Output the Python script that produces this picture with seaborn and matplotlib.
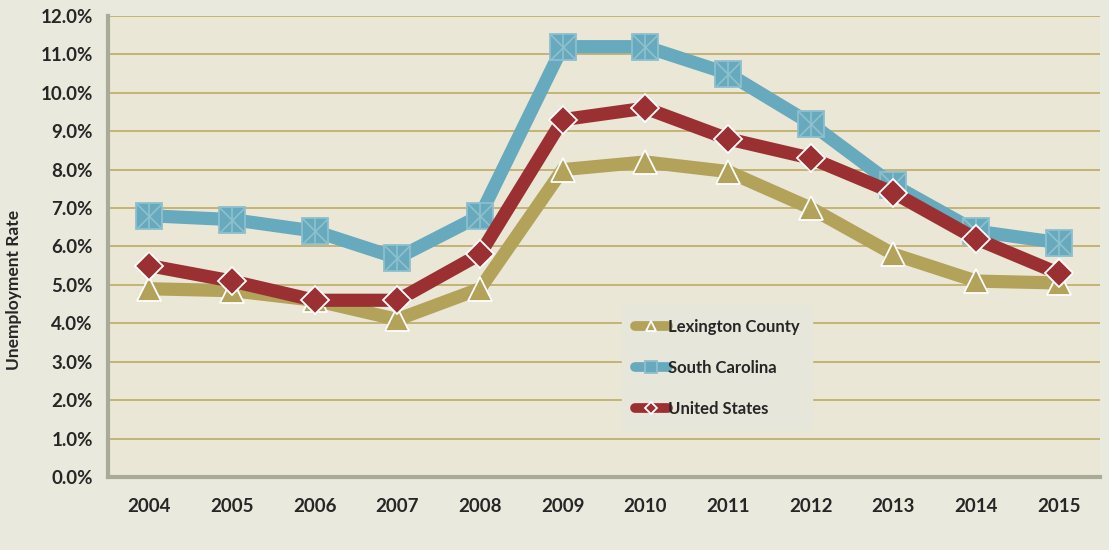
import numpy as np
import pandas as pd
import matplotlib
matplotlib.use("Agg")
import matplotlib.pyplot as plt
import seaborn as sns
from matplotlib.ticker import FixedLocator, FuncFormatter

# data
years = ["2004", "2005", "2006", "2007", "2008", "2009",
         "2010", "2011", "2012", "2013", "2014", "2015"]
lexington = [4.9, 4.85, 4.6, 4.1, 4.9, 8.0, 8.2, 7.95, 7.0, 5.8, 5.1, 5.05]
south_carolina = [6.8, 6.7, 6.4, 5.7, 6.8, 11.2, 11.2, 10.5, 9.2, 7.6, 6.4, 6.1]
united_states = [5.5, 5.1, 4.6, 4.6, 5.8, 9.3, 9.6, 8.8, 8.3, 7.4, 6.2, 5.3]

sns.set_style("white")
plt.rcParams['font.family'] = ['Lato', 'DejaVu Sans']

fig = plt.figure(figsize=(11.09, 5.5), dpi=100, facecolor='#E9E9DD')
ax = fig.add_axes([0.0974, 0.1327, 0.8945, 0.8383])
ax.set_facecolor('#EBE7D6')

grid_col = '#BEAA68'
axis_col = '#A9AA98'

for v in range(1, 13):
    ax.axhline(v, color=grid_col, linewidth=1.2, zorder=1)

pos = np.arange(len(years))

# Lexington County
sns.lineplot(x=pos, y=lexington, ax=ax, color='#B2A25A', linewidth=9.5,
             marker='^', markersize=17, markeredgecolor='white',
             markeredgewidth=1.3, label='Lexington County', zorder=3)
# South Carolina - square with star-ish cross
sns.lineplot(x=pos, y=south_carolina, ax=ax, color='#68AABD', linewidth=9.5,
             marker='s', markersize=19, markeredgecolor='#8EC0CE',
             markeredgewidth=1.3, label='South Carolina', zorder=4)
ax.plot(pos, south_carolina, linestyle='', marker='x', markersize=18,
        markeredgecolor='#8EC0CE', markeredgewidth=1.2, zorder=4)
ax.plot(pos, south_carolina, linestyle='', marker='|', markersize=19,
        markeredgecolor='#8EC0CE', markeredgewidth=1.2, zorder=4)
# United States
sns.lineplot(x=pos, y=united_states, ax=ax, color='#9B3032', linewidth=9.5,
             marker='D', markersize=14, markeredgecolor='white',
             markeredgewidth=1.3, label='United States', zorder=5)

ax.set_xlim(-0.5, len(years) - 0.5)
ax.set_ylim(0, 12)

ax.yaxis.set_major_locator(FixedLocator(np.arange(0, 13)))
ax.yaxis.set_major_formatter(FuncFormatter(lambda v, p: f"{v:.1f}%"))
ax.set_xticks(pos)
ax.set_xticklabels(years)
ax.xaxis.set_minor_locator(FixedLocator(np.arange(-0.5, len(years))))

ax.tick_params(axis='x', which='major', length=0, pad=15, labelsize=13.5)
ax.tick_params(axis='x', which='minor', length=6, width=3, color=axis_col)
ax.tick_params(axis='y', which='major', length=6, width=3, color=axis_col,
               pad=5, labelsize=13.5)
for lab in ax.get_xticklabels() + ax.get_yticklabels():
    lab.set_fontweight('bold')

for side in ['top', 'right']:
    ax.spines[side].set_visible(False)
for side in ['left', 'bottom']:
    ax.spines[side].set_color(axis_col)
    ax.spines[side].set_linewidth(3)

ax.set_xlabel('')
ax.set_ylabel('Unemployment Rate', fontsize=12.5, fontweight='bold')
ax.yaxis.set_label_coords(-0.0865, 0.406)

leg = ax.legend(loc='lower left', bbox_to_anchor=(0.51, 0.085), frameon=True,
                fancybox=False, facecolor='#E6E6DA', edgecolor='#E6E6DA',
                framealpha=1, handlelength=2.0, handletextpad=0.0,
                labelspacing=1.5, borderpad=0.75, markerscale=0.45,
                prop={'weight': 'bold', 'size': 12})
for h in leg.get_lines():
    h.set_linewidth(7)

fig.savefig('out.png', dpi=100, facecolor=fig.get_facecolor())
